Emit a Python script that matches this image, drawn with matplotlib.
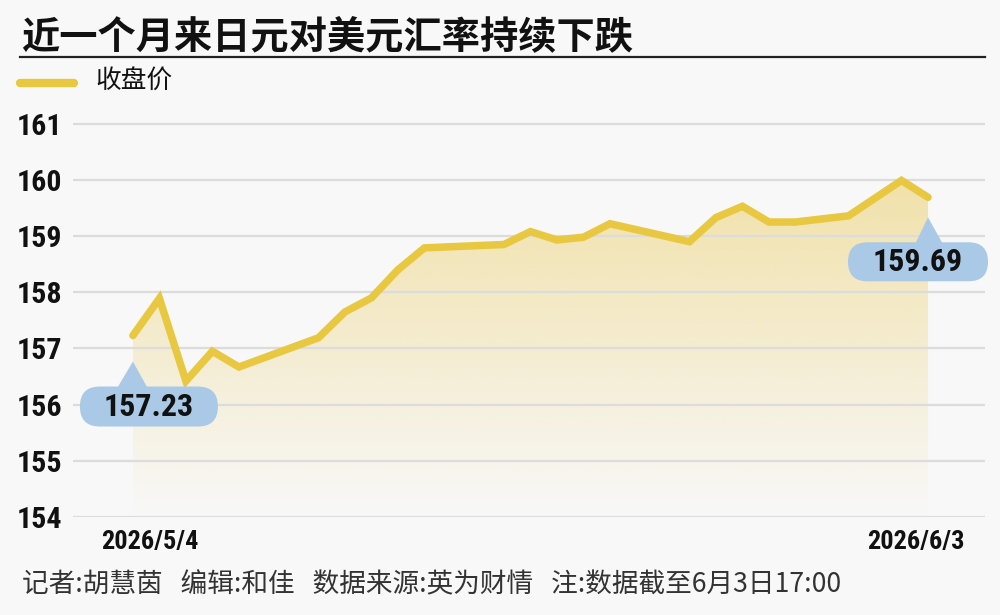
import matplotlib
matplotlib.use("Agg")
import matplotlib.pyplot as plt
import matplotlib.transforms as mtransforms
from matplotlib.patches import FancyBboxPatch, Polygon
from matplotlib.lines import Line2D
import numpy as np
import pandas as pd

# 数据
dates = ['2026-05-04', '2026-05-05', '2026-05-06', '2026-05-07', '2026-05-08',
         '2026-05-11', '2026-05-12', '2026-05-13', '2026-05-14', '2026-05-15',
         '2026-05-18', '2026-05-19', '2026-05-20', '2026-05-21', '2026-05-22',
         '2026-05-25', '2026-05-26', '2026-05-27', '2026-05-28', '2026-05-29',
         '2026-05-31', '2026-06-02', '2026-06-03']
close = [157.23, 157.89, 156.42, 156.95, 156.67,
         157.19, 157.65, 157.90, 158.40, 158.79,
         158.85, 159.08, 158.93, 158.98, 159.22,
         158.90, 159.33, 159.53, 159.25, 159.25,
         159.36, 159.99, 159.69]
yticks = [154, 155, 156, 157, 158, 159, 160, 161]
xtick_labels = ['2026/5/4', '2026/6/3']

title = '近一个月来日元对美元汇率持续下跌'
legend_label = '收盘价'
footer = '记者:胡慧茵   编辑:和佳   数据来源:英为财情   注:数据截至6月3日17:00'

cjk = ['Noto Sans CJK SC', 'DejaVu Sans']
narrow = ['Roboto Condensed', 'Barlow Condensed', 'DejaVu Sans']

bg = '#f8f8f8'
line_color = '#e8c840'
bubble = '#a9c9e6'

d = pd.to_datetime(dates)
x = np.array((d - d[0]).days, dtype=float)
y = np.array(close)

fig = plt.figure(figsize=(10, 6.15), dpi=100, facecolor=bg)
ax = fig.add_axes([0.073, 0.1593, 0.912, 0.667])
ax.set_facecolor(bg)
ax.set_xlim(-2.26, 32.15)
ax.set_ylim(154, 161.3)

# 渐变填充
poly = np.column_stack([np.r_[x[0], x, x[-1]], np.r_[154, y, 154]])
clip = Polygon(poly, closed=True, transform=ax.transData, facecolor='none', edgecolor='none')
ax.add_patch(clip)
ny = 200
alpha = np.clip((np.linspace(160.5, 154, ny) - 154.0) * 0.095, 0, 1)
grad = np.zeros((ny, 1, 4))
grad[..., 0] = 236 / 255
grad[..., 1] = 208 / 255
grad[..., 2] = 110 / 255
grad[..., 3] = alpha[:, None]
im = ax.imshow(grad, extent=[x[0], x[-1], 154, 160.5], aspect='auto',
               origin='upper', zorder=1, interpolation='bilinear')
im.set_clip_path(clip)

# 网格
for t in yticks:
    ax.axhline(t, color='#dcdcdc', lw=1.6, zorder=1.5)

ax.plot(x, y, color=line_color, lw=5.4, solid_joinstyle='miter', solid_capstyle='round', zorder=3)

for s in ax.spines.values():
    s.set_visible(False)
ax.set_yticks(yticks)
ax.set_yticklabels([str(t) for t in yticks], family=narrow, fontweight='bold', fontsize=21.5, color='#111')
ax.tick_params(axis='y', length=0, pad=8)
ax.set_xticks([x[0], x[-1]])
ax.set_xticklabels(xtick_labels, family=narrow, fontweight='bold', fontsize=19, color='#111')
ax.tick_params(axis='x', length=0, pad=9)
shifts = [0.17, -0.12]
for lab, sh in zip(ax.get_xticklabels(), shifts):
    lab.set_transform(lab.get_transform() + mtransforms.ScaledTranslation(sh, 0, fig.dpi_scale_trans))


# 数值气泡
def bubble_label(i, box, tri, txt_off):
    tr = fig.dpi_scale_trans + mtransforms.ScaledTranslation(x[i], y[i], ax.transData)
    x0, x1, y0, y1 = box
    r = (y1 - y0) / 2
    ax.add_patch(FancyBboxPatch((x0 + r, y0 + r), (x1 - x0) - 2 * r, 1e-4,
                                boxstyle=f'round,pad={r},rounding_size={r}',
                                transform=tr, facecolor=bubble,
                                edgecolor='none', zorder=4, clip_on=False))
    ax.add_patch(Polygon(tri, closed=True, transform=tr, facecolor=bubble,
                         edgecolor='none', zorder=4, clip_on=False))
    ax.text(txt_off[0], txt_off[1], f'{y[i]:.2f}', transform=tr, ha='center', va='center',
            family=narrow, fontweight='bold', fontsize=23, color='#111', zorder=5)


bubble_label(0, (-0.53, 0.85, -0.91, -0.51),
             [(-0.16, -0.53), (0.0, -0.26), (0.15, -0.53)], (0.16, -0.71))
bubble_label(len(x) - 1, (-0.80, 0.60, -0.84, -0.45),
             [(-0.13, -0.47), (0.0, -0.20), (0.15, -0.47)], (-0.10, -0.645))

# 标题、图例、脚注
fig.text(0.021, 1 - 37 / 615, title, family=cjk, fontsize=27.5, fontweight='bold',
         color='#111', va='center', ha='left')
fig.add_artist(Line2D([0.02, 0.985], [1 - 57 / 615] * 2, color='#222', lw=1.6))
fig.add_artist(Line2D([0.02, 0.074], [1 - 83 / 615] * 2, color=line_color, lw=6,
                      solid_capstyle='round'))
fig.text(0.095, 1 - 82 / 615, legend_label, family=cjk, fontsize=18.5, color='#111',
         va='center', ha='left')
fig.text(0.022, 1 - 585 / 615, footer, family=cjk, fontsize=19.2, color='#333',
         va='center', ha='left')

fig.savefig('out.png', dpi=100, facecolor=bg)
